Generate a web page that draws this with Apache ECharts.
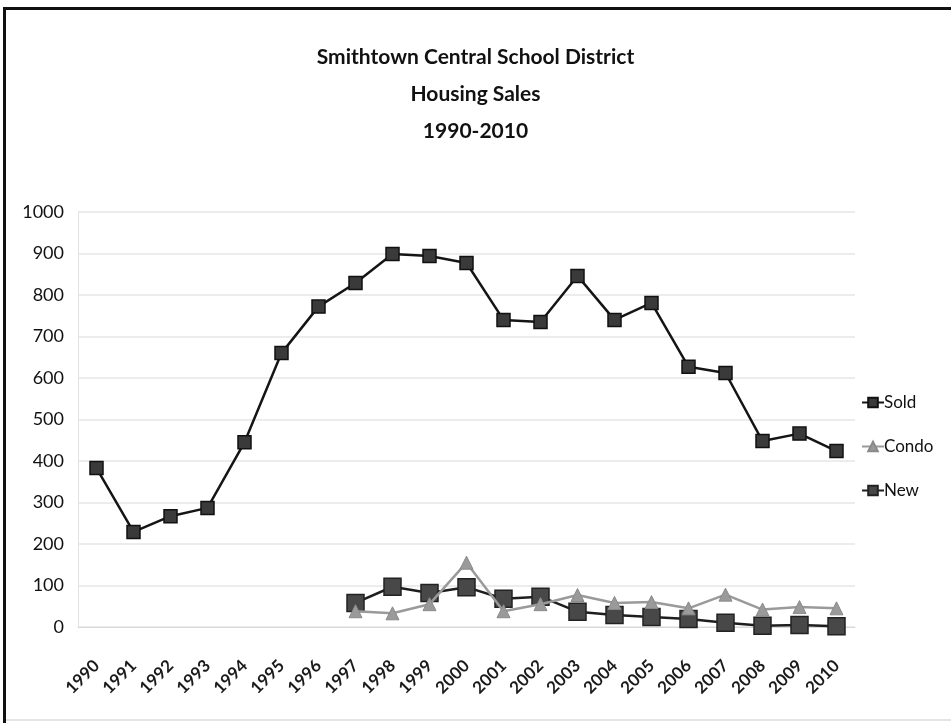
<!DOCTYPE html>
<html>
<head>
<meta charset="utf-8">
<script src="https://cdn.jsdelivr.net/npm/echarts@6/dist/echarts.min.js"></script>
<style>
  html, body { margin: 0; padding: 0; background: #fff; }
  #chart { width: 951px; height: 723px; }
</style>
</head>
<body>
<div id="chart"></div>
<script>
// Housing sales, Smithtown Central School District, 1990-2010
const years = ['1990','1991','1992','1993','1994','1995','1996','1997','1998','1999','2000',
               '2001','2002','2003','2004','2005','2006','2007','2008','2009','2010'];
const sold  = [383, 229, 267, 287, 445, 660, 772, 829, 899, 894, 877,
               740, 735, 846, 740, 781, 627, 612, 448, 466, 424];
const condo = [null, null, null, null, null, null, null, 38, 33, 55, 155,
               38, 55, 77, 58, 60, 45, 78, 42, 48, 45];
const newHomes = [null, null, null, null, null, null, null, 58, 97, 82, 96,
                  68, 73, 37, 29, 24, 19, 10, 3, 5, 2];
const yTicks = { min: 0, max: 1000, step: 100 };

const FONT = "Lato, 'Open Sans', sans-serif";

const chart = echarts.init(document.getElementById('chart'), null, { renderer: 'canvas' });
chart.setOption({
  backgroundColor: '#ffffff',
  animation: false,
  textStyle: { fontFamily: FONT },
  graphic: [
    { // frame: heavy top and left edges, faint bottom edge
      type: 'line', shape: { x1: 3, y1: 8.5, x2: 960, y2: 8.5 },
      style: { stroke: '#111', lineWidth: 3 }, silent: true
    },
    {
      type: 'line', shape: { x1: 4.5, y1: 7, x2: 4.5, y2: 723 },
      style: { stroke: '#111', lineWidth: 3 }, silent: true
    },
    {
      type: 'line', shape: { x1: 6, y1: 720, x2: 951, y2: 720 },
      style: { stroke: '#e4e4e4', lineWidth: 2 }, silent: true
    }
  ],
  title: {
    text: 'Smithtown Central School District\nHousing Sales\n1990-2010',
    left: 'center',
    top: 34,
    textStyle: {
      fontFamily: FONT, fontSize: 21, fontWeight: 'bold', color: '#111', lineHeight: 37
    }
  },
  legend: {
    orient: 'vertical',
    left: 856,
    top: 389,
    itemGap: 27,
    itemWidth: 22,
    itemHeight: 12,
    textStyle: { fontFamily: FONT, fontSize: 17, color: '#111', padding: [0, 0, 0, -5] },
    data: ['Sold', 'Condo', 'New']
  },
  grid: { left: 78, right: 96, top: 212, bottom: 96, containLabel: false },
  xAxis: {
    type: 'category',
    data: years,
    boundaryGap: true,
    axisLine: { lineStyle: { color: '#d8d8d8' } },
    axisTick: { show: false },
    axisLabel: {
      interval: 0, rotate: 45, fontFamily: FONT, fontSize: 17, fontWeight: 'bold', color: '#1a1a1a',
      margin: 36
    },
    splitLine: { show: false }
  },
  yAxis: {
    type: 'value',
    min: yTicks.min, max: yTicks.max, interval: yTicks.step,
    axisLine: { show: true, lineStyle: { color: '#e2e2e2' } },
    axisTick: { show: false },
    axisLabel: {
      fontFamily: FONT, fontSize: 18, color: '#111', margin: 14,
      formatter: v => String(v)
    },
    splitLine: { lineStyle: { color: '#e6e6e6', width: 1.5 } }
  },
  series: [
    {
      name: 'Sold', type: 'line', data: sold,
      symbol: 'rect', symbolSize: 13,
      lineStyle: { color: '#151515', width: 2.5 },
      itemStyle: { color: '#3a3a3a', borderColor: '#111', borderWidth: 1.5 },
      z: 4
    },
    {
      name: 'Condo', type: 'line', data: condo,
      symbol: 'triangle', symbolSize: 13,
      lineStyle: { color: '#9a9a9a', width: 2.5 },
      itemStyle: { color: '#9a9a9a', borderColor: '#8a8a8a', borderWidth: 1 },
      z: 3
    },
    {
      name: 'New', type: 'line', data: newHomes,
      symbol: 'rect', symbolSize: 17,
      lineStyle: { color: '#1e1e1e', width: 2.5 },
      itemStyle: { color: '#484848', borderColor: '#222', borderWidth: 1.5 },
      z: 2
    }
  ]
});
</script>
</body>
</html>
